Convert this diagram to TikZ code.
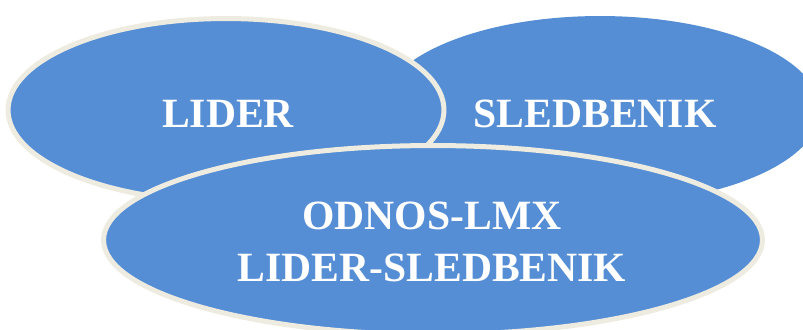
\documentclass[tikz,border=0pt]{standalone}
\usepackage{fontspec}
\setmainfont{Liberation Serif}
\usetikzlibrary{shapes.geometric}
\definecolor{ovalblue}{RGB}{85,142,213}
\definecolor{ovalrim}{RGB}{238,236,225}
\tikzset{
  oval/.style={ellipse, fill=ovalblue, inner sep=0pt},
  rim/.style={draw=ovalrim, line width=0.1cm},
  lbl/.style={text=white, font=\fontsize{23.7}{29.5}\selectfont\bfseries, align=center},
}
\begin{document}
\begin{tikzpicture}[x=0.02cm,y=-0.02cm]
        \useasboundingbox(0,0)rectangle(803,329);
        \node[oval, minimum width=8.8cm, minimum height=3.76cm](sled)at(600,110){};
        \node[oval, rim, minimum width=8.72cm, minimum height=3.66cm](lider)at(226,110){};
        \node[oval, rim, minimum width=13.18cm, minimum height=3.78cm](odnos)at(433,240){};
        \node[lbl](t1)at(228,114){LIDER};
        \node[lbl](t2)at(595,114){SLEDBENIK};
        \node[lbl](t3)at(432,242){ODNOS-LMX\\LIDER-SLEDBENIK};
\end{tikzpicture}
\end{document}
